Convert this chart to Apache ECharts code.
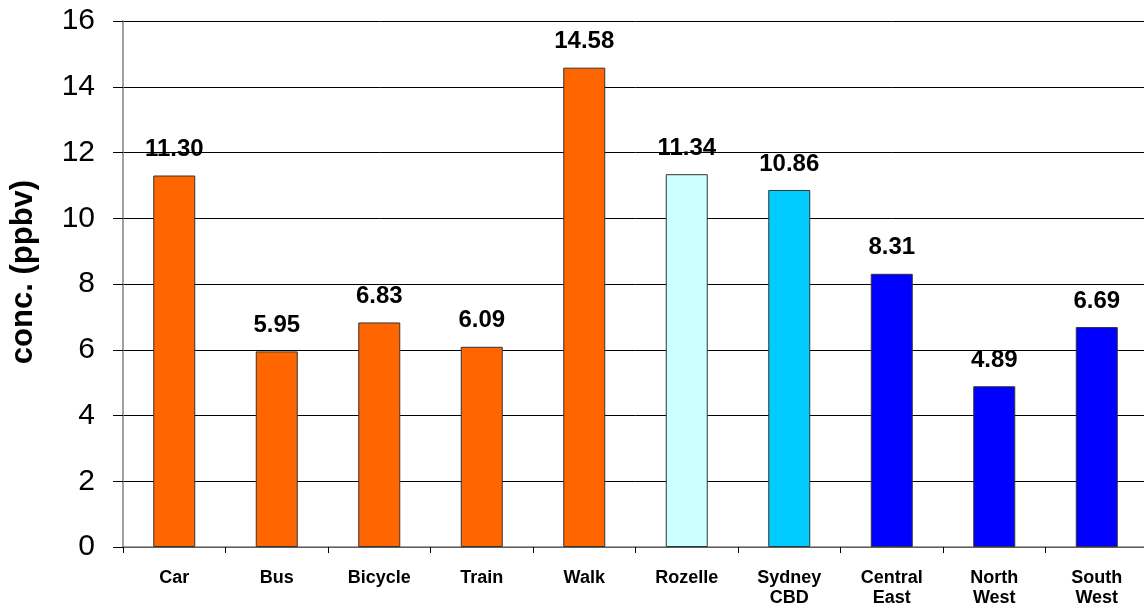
<!DOCTYPE html>
<html><head><meta charset="utf-8">
<script src="https://cdn.jsdelivr.net/npm/echarts@6/dist/echarts.min.js"></script>
<style>html,body{margin:0;padding:0;background:#fff;overflow:hidden}#c{width:1148px;height:610px}</style>
</head><body><div id="c"></div>
<script>
const categories = ['Car','Bus','Bicycle','Train','Walk','Rozelle','Sydney\nCBD','Central\nEast','North\nWest','South\nWest'];
const values = [11.30, 5.95, 6.83, 6.09, 14.58, 11.34, 10.86, 8.31, 4.89, 6.69];
const barColors = ['#FF6600','#FF6600','#FF6600','#FF6600','#FF6600','#CCFFFF','#00CCFF','#0000FF','#0000FF','#0000FF'];
const yTicks = [0,2,4,6,8,10,12,14,16];

const chart = echarts.init(document.getElementById('c'));
chart.setOption({
  animation: false,
  textStyle: { fontFamily: 'Liberation Sans, Arial, sans-serif' },
  grid: { left: 122, right: 0, top: 21, bottom: 63 },
  xAxis: {
    type: 'category', data: categories,
    axisLine: { lineStyle: { color: '#808080', width: 1.5 } },
    axisTick: { show: true, alignWithLabel: false, length: 6, lineStyle: { color: '#000' } },
    axisLabel: { color: '#000', fontWeight: 'bold', fontSize: 18, margin: 21, lineHeight: 20, interval: 0 }
  },
  yAxis: {
    type: 'value', min: yTicks[0], max: yTicks[yTicks.length-1], interval: 2,
    name: 'conc. (ppbv)', nameLocation: 'middle', nameGap: 84,
    nameTextStyle: { color: '#000', fontWeight: 'bold', fontSize: 31, padding: [0, 0, 0, 24] },
    axisLine: { show: true, lineStyle: { color: '#808080', width: 1.5 } },
    axisTick: { show: true, length: 10, lineStyle: { color: '#000' } },
    axisLabel: { color: '#000', fontSize: 30, margin: 28 },
    splitLine: { show: true, lineStyle: { color: '#000', width: 1 } }
  },
  series: [{
    type: 'bar', barWidth: 42,
    data: values.map((v, i) => ({ value: v, itemStyle: { color: barColors[i] } })),
    itemStyle: { borderColor: '#333', borderWidth: 1 },
    label: { show: true, position: 'top', distance: 14, color: '#000', fontWeight: 'bold', fontSize: 24, formatter: p => p.value.toFixed(2) }
  }]
});
</script></body></html>
